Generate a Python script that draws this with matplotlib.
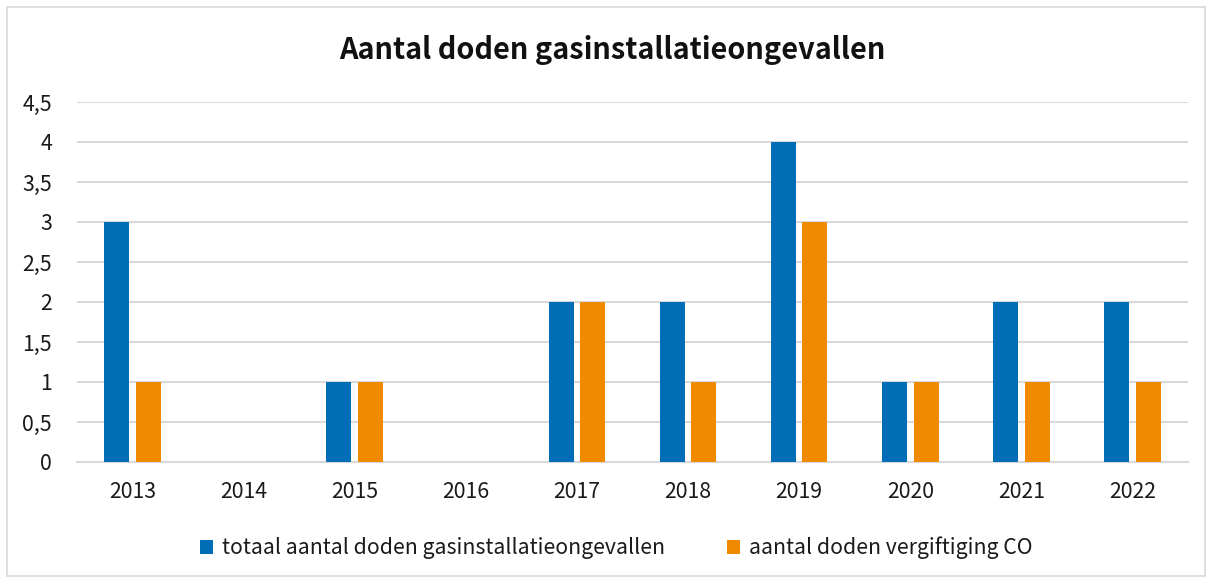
import matplotlib
matplotlib.use("Agg")
import matplotlib.pyplot as plt
import numpy as np
from matplotlib.patches import Rectangle

years = ["2013", "2014", "2015", "2016", "2017", "2018", "2019", "2020", "2021", "2022"]
totaal = [3, 0, 1, 0, 2, 2, 4, 1, 2, 2]
co = [1, 0, 1, 0, 2, 1, 3, 1, 1, 1]
yticks = [0, 0.5, 1, 1.5, 2, 2.5, 3, 3.5, 4, 4.5]
ylabels = ["0", "0,5", "1", "1,5", "2", "2,5", "3", "3,5", "4", "4,5"]

plt.rcParams['font.family'] = ['Noto Sans CJK SC', 'DejaVu Sans']

W, H = 1212, 583
fig = plt.figure(figsize=(W/100, H/100), dpi=100)
fig.patches.append(Rectangle((7/W, 7/H), 1198/W, 569/H, transform=fig.transFigure,
                             fill=False, edgecolor='#d9d9d9', linewidth=1.2))

ax = fig.add_axes([77/W, 1 - 462/H, (1188-77)/W, (462-102)/H])
x = np.arange(len(years))
bw = 0.225
off = 0.142
blue = '#006EB7'
orange = '#F08A00'
ax.bar(x - off, totaal, bw, color=blue, label='totaal aantal doden gasinstallatieongevallen', zorder=3)
ax.bar(x + off, co, bw, color=orange, label='aantal doden vergiftiging CO', zorder=3)
ax.set_xlim(-0.5, len(years) - 0.5)
ax.set_ylim(0, 4.5)
ax.set_yticks(yticks)
ax.set_yticklabels(ylabels)
ax.set_xticks(x)
ax.set_xticklabels(years)
ax.grid(axis='y', color='#d9d9d9', linewidth=1.5, zorder=0)
for s in ['top', 'right', 'left']:
    ax.spines[s].set_visible(False)
ax.spines['bottom'].set_color('#d9d9d9')
ax.spines['bottom'].set_linewidth(1.5)
ax.tick_params(axis='both', length=0, labelsize=15.3, colors='#1a1a1a')
ax.tick_params(axis='x', pad=14)
ax.tick_params(axis='y', pad=18)
for lab in ax.get_yticklabels():
    lab.set_horizontalalignment('right')

fig.text(612/W, 1 - 50/H, 'Aantal doden gasinstallatieongevallen', ha='center', va='center',
         fontsize=20.8, fontweight='bold', color='#111111')

leg = fig.legend(loc='center', bbox_to_anchor=(616/W, 1 - 548/H), ncol=2, frameon=False,
                 fontsize=15.3, handlelength=0.65, handleheight=0.65, handletextpad=0.4,
                 columnspacing=2.9)
for t in leg.get_texts():
    t.set_color('#1a1a1a')

fig.savefig('out.png', dpi=100)
